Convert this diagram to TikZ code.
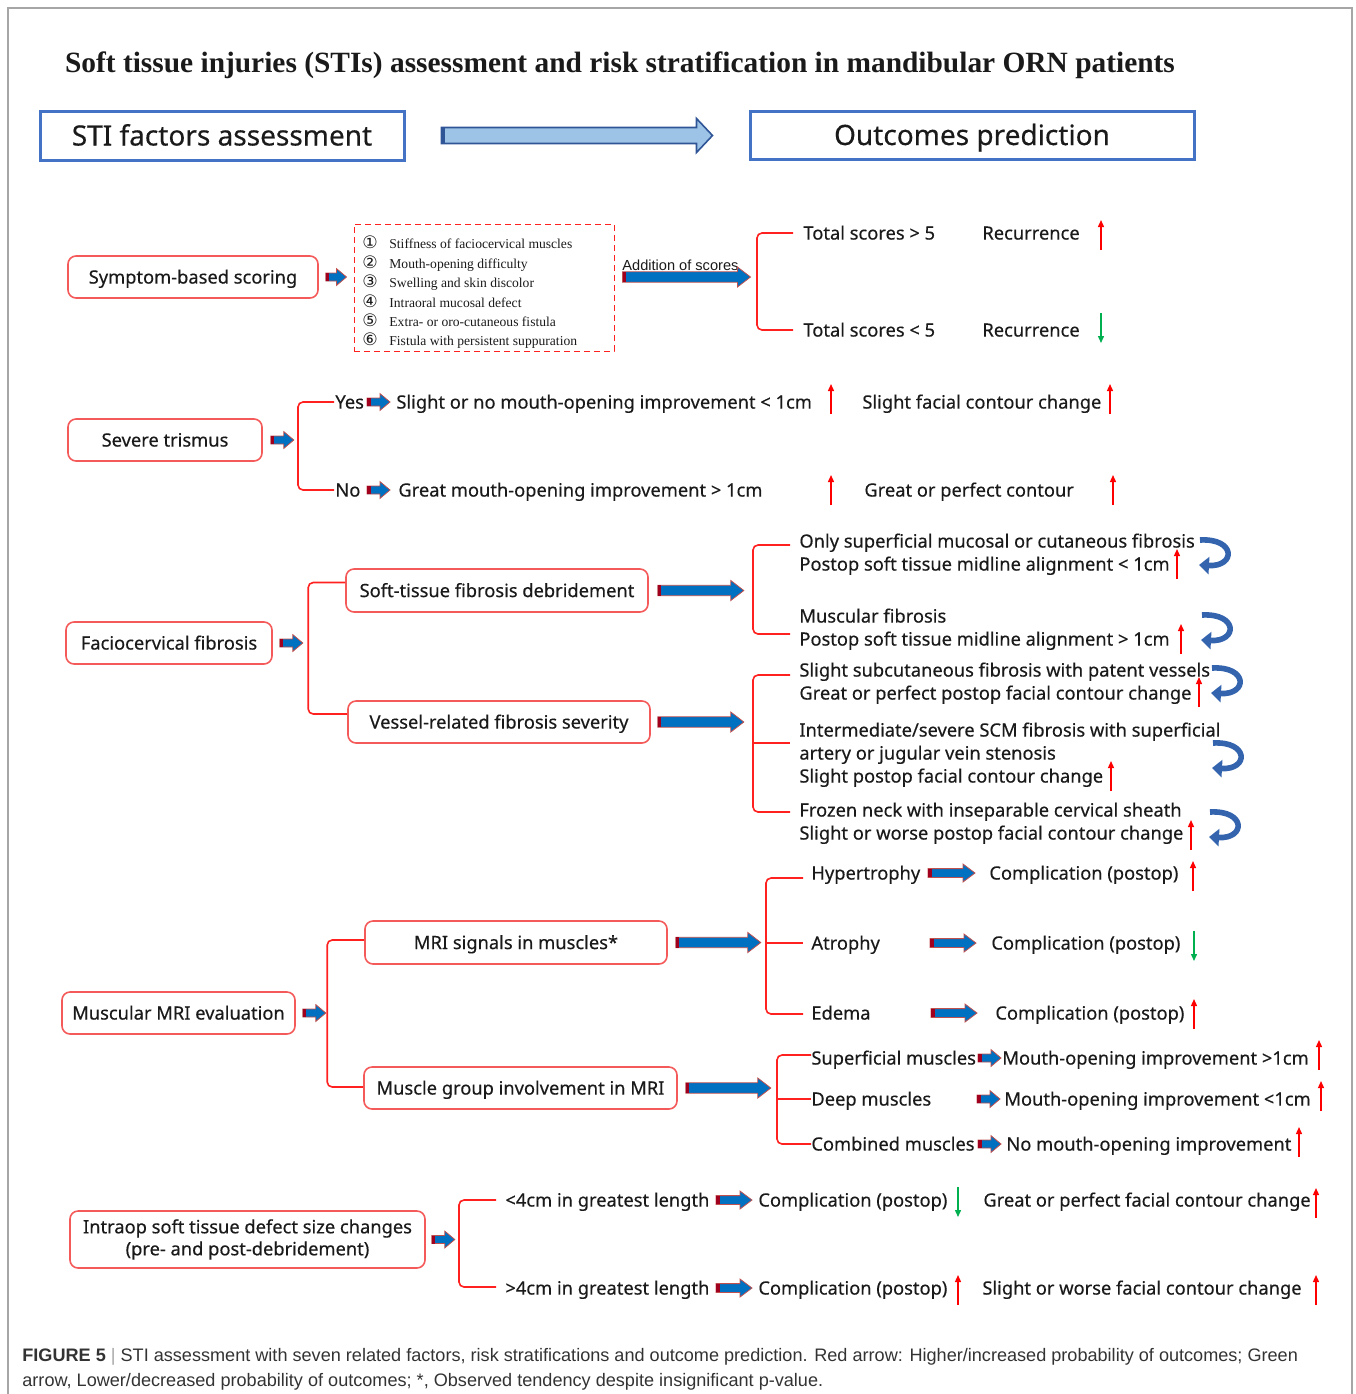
\documentclass[tikz,border=0pt]{standalone}
\usepackage{fontspec}
\setsansfont{Noto Sans}[FakeBold=0.35]
\newfontfamily\titlefont{Liberation Serif}
\newfontfamily\capfont{Liberation Sans}
\newfontfamily\listfont{Liberation Serif}
\newfontfamily\symfont{DejaVu Sans}
\usetikzlibrary{arrows.meta,calc}

\definecolor{ink}{HTML}{1A1A1A}
\definecolor{stiblue}{HTML}{4472C4}
\definecolor{boxred}{HTML}{F55A5A}
\definecolor{brkred}{HTML}{FF2020}
\definecolor{flowblue}{HTML}{0070C0}
\definecolor{flowedge}{HTML}{C0504D}
\definecolor{flowtail}{HTML}{A0001E}
\definecolor{bigblue}{HTML}{9DC3E6}
\definecolor{bigedge}{HTML}{2F5597}
\definecolor{curlblue}{HTML}{3464AE}
\definecolor{upred}{HTML}{FF0000}
\definecolor{downgreen}{HTML}{00B050}
\definecolor{framegray}{HTML}{A6A6A6}
\definecolor{capink}{HTML}{333333}

% block arrow: style, tail colour, from, to, half shaft, half head, head length
\newcommand\blockflow[7]{%
  \path[#1] let \p1=#3, \p2=#4 in
    ({\x1},{\y1-#5}) -- ({\x2-#7},{\y1-#5}) -- ({\x2-#7},{\y1-#6}) -- ({\x2},{\y1})
    -- ({\x2-#7},{\y1+#6}) -- ({\x2-#7},{\y1+#5}) -- ({\x1},{\y1+#5}) -- cycle;
  \fill[#2] let \p1=#3 in ({\x1},{\y1-#5}) rectangle ({\x1+1.8pt},{\y1+#5});}
\newcommand\sflow[2]{\blockflow{flow}{flowtail}{#1}{#2}{2pt}{4.2pt}{5pt}}
\newcommand\cflow[2]{\blockflow{flow}{flowtail}{#1}{#2}{2.2pt}{4.5pt}{6pt}}
\newcommand\mflow[2]{\blockflow{flow}{flowtail}{#1}{#2}{2.6pt}{5pt}{6.5pt}}
% outcome marks and curls
\newcommand\riseup[2]{\draw[risearr] (#1,{#2+15}) -- (#1,{#2-15});}
\newcommand\falldown[2]{\draw[fallarr] (#1,{#2-15}) -- (#1,{#2+15});}
\newcommand\curlback[2]{\draw[curlarr] (#1,#2) .. controls ({#1+36},{#2-2}) and ({#1+36},{#2+27}) .. ({#1-1},{#2+25});}
\newcommand\lnum[1]{\makebox[13.5pt][l]{\symfont\fontsize{8.6}{9.7}\selectfont #1}}

\begin{document}
\begin{tikzpicture}[x=0.5pt,y=-0.5pt,font=\sffamily\fontsize{9.15}{11}\selectfont,text=ink,
  head/.style={draw=stiblue,line width=1.5pt,font=\sffamily\fontsize{14}{16}\selectfont,text height=10pt,text depth=0pt},
  rbox/.style={draw=boxred,line width=.8pt,rounded corners=4pt,fill=white},
  factor/.style={rbox,minimum height=21pt,text height=6.55pt,text depth=0pt},
  txt/.style={anchor=west,inner sep=0pt,text height=6.55pt,text depth=0pt},
  brk/.style={draw=brkred,line width=.8pt,rounded corners=2.5pt},
  flow/.style={fill=flowblue,draw=flowedge,line width=.4pt},
  bigflow/.style={fill=bigblue,draw=bigedge,line width=.8pt},
  risearr/.style={draw=upred,line width=.7pt,-{Triangle[length=3.5pt,width=3pt]}},
  fallarr/.style={draw=downgreen,line width=.7pt,-{Triangle[length=3.5pt,width=3pt]}},
  curlarr/.style={draw=curlblue,line width=2.8pt,-{Triangle[length=5pt,width=8.5pt]}},
  lstbox/.style={draw=brkred,densely dashed,line width=.5pt,minimum width=130pt,minimum height=63.5pt},
  lsttxt/.style={anchor=west,inner sep=0pt,align=left,font=\listfont\fontsize{6.8}{9.7}\selectfont}]
\useasboundingbox (0,0) rectangle (1356,1394);
\draw[framegray,line width=.8pt] (8,1394) |- (1352,8) -- (1352,1394);

\node[font=\titlefont\bfseries\fontsize{14.7}{16}\selectfont] (title) at (620,65)
  {Soft tissue injuries (STIs) assessment and risk stratification in mandibular ORN patients};
\node[head,minimum width=182pt,minimum height=24.5pt] (sti) at (222,135.5) {STI factors assessment};
\node[head,minimum width=222pt,minimum height=24pt] (outc) at (972,135) {Outcomes prediction};
\blockflow{bigflow}{bigedge}{($(sti.east)+(36,0)$)}{($(outc.west)+(-36,0)$)}{4pt}{8.5pt}{8pt}

% symptom-based scoring
\node[factor,minimum width=125pt] (sym) at (193,277) {Symptom-based scoring};
\node[lstbox] (lst) at (484,287.5) {};
\node[lsttxt] (items) at (362,292.5) {\lnum{①}Stiffness of faciocervical muscles\\
  \lnum{②}Mouth-opening difficulty\\ \lnum{③}Swelling and skin discolor\\
  \lnum{④}Intraoral mucosal defect\\ \lnum{⑤}Extra- or oro-cutaneous fistula\\
  \lnum{⑥}Fistula with persistent suppuration};
\sflow{($(sym.east)+(7,0)$)}{($(lst.west)+(-7,0)$)}
\node[txt,font=\capfont\fontsize{7.3}{9}\selectfont] (add) at (622,264) {Addition of scores};
\mflow{($(sym.east -| lst.east)+(8,0)$)}{($(sym.east -| lst.east)+(136,0)$)}
\node[txt] (ts1) at (803,233) {Total scores > 5};
\node[txt] (rc1) at (982,233) {Recurrence};
\node[txt] (ts2) at (803,330) {Total scores < 5};
\node[txt] (rc2) at (982,330) {Recurrence};
\draw[brk] ($(ts1.west)+(-10,0)$) -- ++(-36,0) |- ($(ts2.west)+(-10,0)$);
\riseup{1101}{235}
\falldown{1101}{328}

% severe trismus
\node[factor,minimum width=97pt] (tri) at (165,440) {Severe trismus};
\sflow{($(tri.east)+(8,0)$)}{($(tri.east)+(31,0)$)}
\node[txt] (yes) at (335,402) {Yes};
\node[txt] (no) at (335,490) {No};
\draw[brk] ($(yes.west)+(-1,0)$) -- ++(-36,0) |- ($(no.west)+(-1,0)$);
\node[txt] (s1) at (396,402) {Slight or no mouth-opening improvement < 1cm};
\node[txt] (s2) at (862,402) {Slight facial contour change};
\node[txt] (n1) at (398,490) {Great mouth-opening improvement > 1cm};
\node[txt] (n2) at (864,490) {Great or perfect contour};
\sflow{($(s1.west)+(-29,0)$)}{($(s1.west)+(-6,0)$)}
\sflow{($(n1.west)+(-31,0)$)}{($(n1.west)+(-8,0)$)}
\riseup{831}{399} \riseup{1110}{399}
\riseup{831}{490} \riseup{1113}{490}

% faciocervical fibrosis
\node[factor,minimum width=103pt] (fib) at (169,643) {Faciocervical fibrosis};
\sflow{($(fib.east)+(7,0)$)}{($(fib.east)+(30,0)$)}
\node[factor,minimum width=151pt,minimum height=21.5pt] (deb) at (497,590.5) {Soft-tissue fibrosis debridement};
\node[factor,minimum width=151pt] (ves) at (499,722) {Vessel-related fibrosis severity};
\draw[brk] ($(deb.west)+(0,-8)$) -- ++(-37,0) |- ($(ves.west)+(0,-8)$);
\mflow{($(deb.east)+(9,0)$)}{($(deb.east)+(95,0)$)}
\mflow{($(ves.east)+(7,0)$)}{($(ves.east)+(93,0)$)}
\node[txt] (a1) at (799,541) {Only superficial mucosal or cutaneous fibrosis};
\node[txt] (a2) at (799,564) {Postop soft tissue midline alignment < 1cm};
\node[txt] (a3) at (799,616) {Muscular fibrosis};
\node[txt] (a4) at (799,639) {Postop soft tissue midline alignment > 1cm};
\draw[brk] ($(a1.west)+(-9,4)$) -- ++(-37,0) |- ($(a4.west)+(-9,-5)$);
\riseup{1177}{564} \riseup{1181}{639}
\curlback{1200}{540} \curlback{1202}{615}
\node[txt] (b1) at (799,670) {Slight subcutaneous fibrosis with patent vessels};
\node[txt] (b2) at (799,693) {Great or perfect postop facial contour change};
\node[txt] (b3) at (799,730) {Intermediate/severe SCM fibrosis with superficial};
\node[txt] (b4) at (799,753) {artery or jugular vein stenosis};
\node[txt] (b5) at (799,776) {Slight postop facial contour change};
\node[txt] (b6) at (799,810) {Frozen neck with inseparable cervical sheath};
\node[txt] (b7) at (799,833) {Slight or worse postop facial contour change};
\draw[brk] ($(b1.west)+(-9,5)$) -- ++(-37,0) |- ($(b6.west)+(-9,2)$);
\draw[brk] ($(b3.west)+(-9,13)$) -- ++(-37,0);
\riseup{1199}{692} \riseup{1111}{776} \riseup{1191}{835}
\curlback{1212}{668} \curlback{1213}{743} \curlback{1210}{812}

% muscular MRI evaluation
\node[factor,minimum width=116.5pt] (mri) at (178.5,1013) {Muscular MRI evaluation};
\sflow{($(mri.east)+(7,0)$)}{($(mri.east)+(30,0)$)}
\node[factor,minimum width=151pt,minimum height=21.5pt] (sig) at (516,942.5) {MRI signals in muscles*};
\node[factor,minimum width=156.5pt] (grp) at (520.5,1088) {Muscle group involvement in MRI};
\draw[brk] ($(sig.west)+(0,-2.5)$) -- ++(-37,0) |- ($(grp.west)+(0,-1)$);
\mflow{($(sig.east)+(8,0)$)}{($(sig.east)+(93,0)$)}
\mflow{($(grp.east)+(8,0)$)}{($(grp.east)+(93,0)$)}
\node[txt] (c1) at (811,873) {Hypertrophy};
\node[txt] (c2) at (811,943) {Atrophy};
\node[txt] (c3) at (811,1013) {Edema};
\node[txt] (p1) at (989,873) {Complication (postop)};
\node[txt] (p2) at (991,943) {Complication (postop)};
\node[txt] (p3) at (995,1013) {Complication (postop)};
\draw[brk] ($(c1.west)+(-8,5)$) -- ++(-37,0) |- ($(c3.west)+(-8,1)$);
\draw[brk] ($(c2.west)+(-8,0)$) -- ++(-37,0);
\cflow{($(p1.west)+(-61,0)$)}{($(p1.west)+(-14,0)$)}
\cflow{($(p2.west)+(-61,0)$)}{($(p2.west)+(-15,0)$)}
\cflow{($(p3.west)+(-64,0)$)}{($(p3.west)+(-18,0)$)}
\riseup{1193}{876} \falldown{1194}{946} \riseup{1194}{1014}
\node[txt] (d1) at (811,1058) {Superficial muscles};
\node[txt] (d2) at (811,1099) {Deep muscles};
\node[txt] (d3) at (811,1144) {Combined muscles};
\node[txt] (e1) at (1002,1058) {Mouth-opening improvement >1cm};
\node[txt] (e2) at (1004,1099) {Mouth-opening improvement <1cm};
\node[txt] (e3) at (1006,1144) {No mouth-opening improvement};
\draw[brk] ($(d1.west)+(0,-3)$) -- ++(-34,0) |- (d3.west);
\draw[brk] (d2.west) -- ++(-34,0);
\sflow{($(e1.west)+(-24,0)$)}{($(e1.west)+(-1,0)$)}
\sflow{($(e2.west)+(-27,0)$)}{($(e2.west)+(-4,0)$)}
\sflow{($(e3.west)+(-28,0)$)}{($(e3.west)+(-5,0)$)}
\riseup{1319}{1055} \riseup{1321}{1096} \riseup{1299}{1142}

% defect size changes
\node[rbox,minimum width=177.5pt,minimum height=28.5pt,align=center] (dfc) at (247.5,1239.5)
  {Intraop soft tissue defect size changes\\(pre- and post-debridement)};
\sflow{($(dfc.east)+(6,0)$)}{($(dfc.east)+(29,0)$)}
\node[txt] (f1) at (505,1200) {<4cm in greatest length};
\node[txt] (f2) at (505,1288) {>4cm in greatest length};
\node[txt] (g1) at (758,1200) {Complication (postop)};
\node[txt] (g2) at (758,1288) {Complication (postop)};
\node[txt] (h1) at (983,1200) {Great or perfect facial contour change};
\node[txt] (h2) at (982,1288) {Slight or worse facial contour change};
\draw[brk] ($(f1.west)+(-9,0)$) -- ++(-37,0) |- ($(f2.west)+(-9,-1)$);
\cflow{($(g1.west)+(-42,0)$)}{($(g1.west)+(-6,0)$)}
\cflow{($(g2.west)+(-42,0)$)}{($(g2.west)+(-6,0)$)}
\falldown{958}{1202} \riseup{1316}{1203}
\riseup{958}{1290} \riseup{1316}{1290}

% caption
\node[txt,font=\capfont\fontsize{9.05}{10}\selectfont,text=capink] (cap1) at (22,1355)
  {\textbf{FIGURE 5} {\color{framegray}|} STI assessment with seven related factors, risk stratifications and outcome prediction. Red arrow: Higher/increased probability of outcomes; Green};
\node[txt,font=\capfont\fontsize{9.05}{10}\selectfont,text=capink] (cap2) at (22,1380)
  {arrow, Lower/decreased probability of outcomes; *, Observed tendency despite insignificant p-value.};
\end{tikzpicture}
\end{document}
